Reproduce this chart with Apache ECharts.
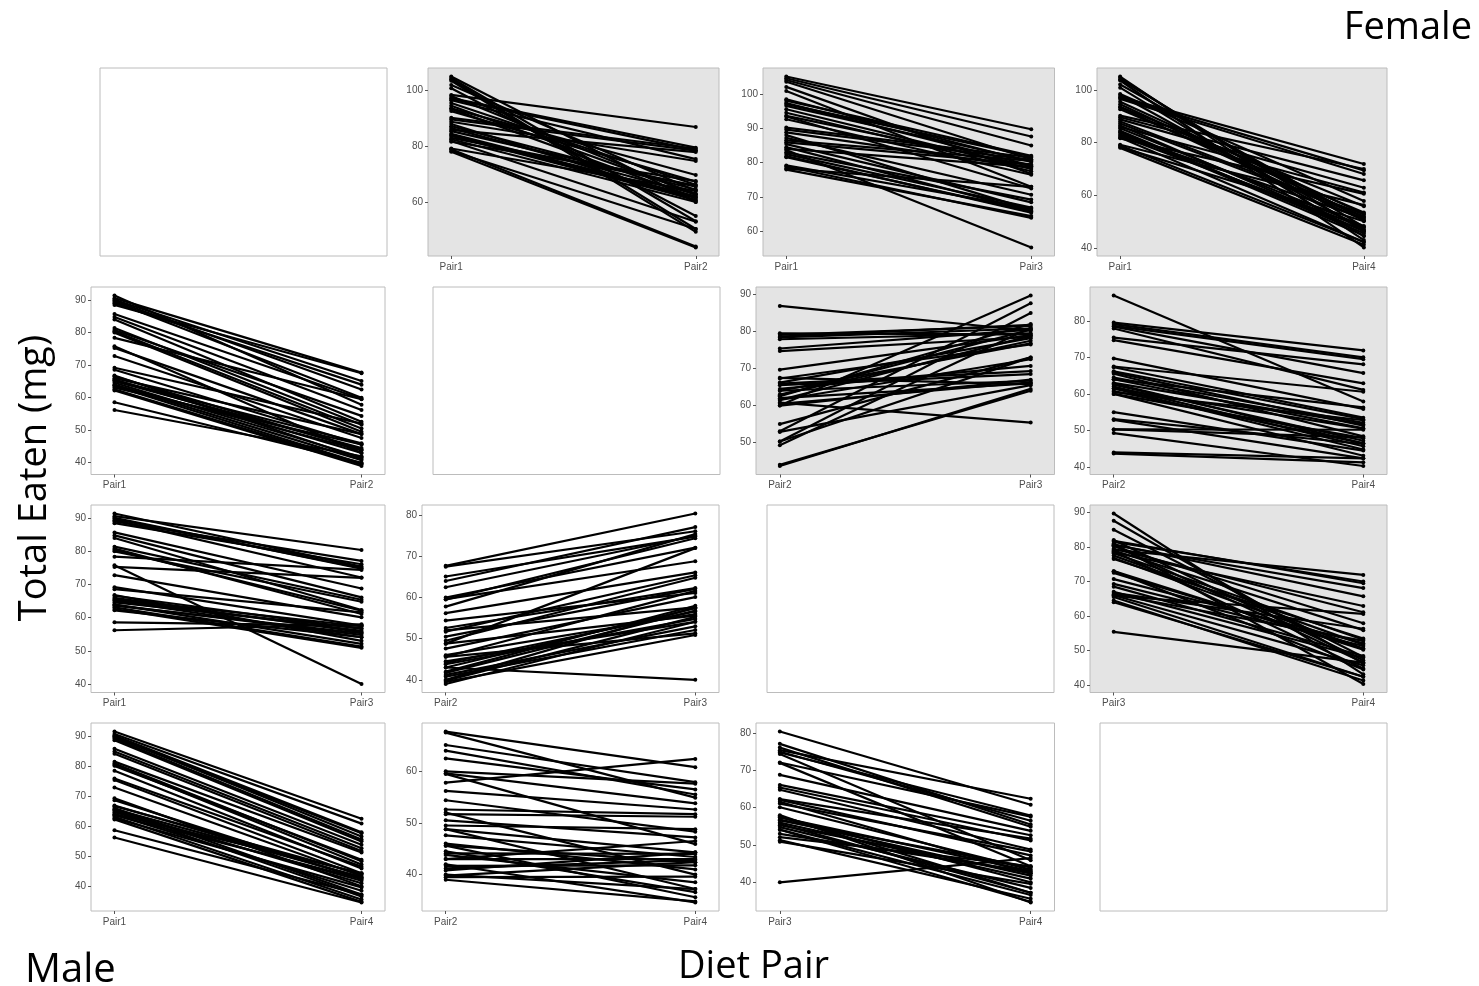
<!DOCTYPE html>
<html><head><meta charset="utf-8">
<script src="https://cdn.jsdelivr.net/npm/echarts@6/dist/echarts.min.js"></script>
<style>html,body{margin:0;padding:0;background:#fff}#c{width:1479px;height:986px}</style>
</head><body><div id="c"></div><script>
// ---------------- DATA ----------------
const pairNames = ['Pair1', 'Pair2', 'Pair3', 'Pair4'];

// Female subjects (upper triangle panels)
const femalePair1 = [105, 104.5, 104, 103.5, 100.8, 98.4, 98, 97.3, 96.5, 95.5, 94.5, 93.6, 93.4, 92.6, 90.2, 89.6, 88.8, 87.2, 85.9, 85.4, 84.5, 83.7, 83, 82.5, 81.9, 81.6, 79.2, 78.9, 78.3, 78, 86.5, 84, 97, 102, 88];
const femalePair2 = [60, 53.1, 50.3, 49.3, 55, 86.9, 62.5, 79.5, 75.4, 66.2, 63, 69.7, 61.5, 67.3, 79.1, 78.4, 74.7, 64.5, 77.9, 65.5, 62, 60.8, 65.9, 60, 52.9, 67.5, 64, 44, 50.3, 43.7, 62.8, 61.5, 78.6, 64, 60.5];
const femalePair3 = [89.7, 87.6, 85, 81, 73, 80.2, 82, 79.2, 80.5, 78.2, 77.5, 79, 72.5, 76.5, 81.5, 80.8, 78.5, 70.7, 79.5, 68.5, 66, 55.4, 69.3, 67, 65.5, 65.8, 66.7, 64, 73, 64.5, 80.5, 78.8, 81.8, 76.8, 66.3];
const femalePair4 = [43.1, 46.3, 48.1, 40.3, 44.5, 57.9, 47.2, 71.9, 68.1, 53.1, 51.7, 55.9, 50.5, 53.5, 70, 65.7, 62.9, 52.1, 61.1, 48.4, 45.7, 46.5, 51.3, 47.9, 42.4, 60.6, 56.3, 42.4, 50.2, 41.3, 46.5, 44.8, 69.5, 50.6, 52.8];

// Male subjects (lower triangle panels)
const malePair1 = [91.4, 90.6, 90.1, 89.4, 89, 88.5, 85.7, 84.8, 84, 81.4, 80.8, 80.4, 78.4, 75.8, 75.3, 72.8, 69.2, 68.6, 66.6, 66, 65.6, 65.1, 64.6, 64, 63.6, 63.1, 62.6, 62.2, 58.6, 56.2, 65.3, 63.8, 89.8, 80, 66.8];
const malePair2 = [57.8, 67.7, 65.1, 60, 64, 67.5, 59.6, 56.2, 52.6, 51.7, 54.4, 50.5, 59.5, 43, 48.8, 47.6, 52, 45.6, 44.1, 48.8, 43, 44.5, 41.7, 40.8, 39.8, 45.6, 39.5, 39, 40, 42, 46, 43.8, 62.5, 49.5, 41.2];
const malePair3 = [75.4, 80.4, 74.8, 72.1, 77.1, 76.1, 68.8, 66.1, 62.3, 65.4, 61.1, 62.1, 74.4, 40, 72, 60.1, 57.6, 61.6, 56.6, 55.6, 57.4, 54.1, 56.8, 52.1, 55.3, 51.3, 50.9, 54.1, 57.6, 58, 56, 54.8, 75, 64.8, 53];
const malePair4 = [62.4, 60.8, 57.9, 57.6, 55.5, 54.9, 53.8, 52.6, 51.7, 51.2, 48.3, 47.2, 45.9, 46.5, 44.3, 43.4, 40, 42.4, 44, 37.2, 43, 36.6, 41.8, 44.3, 42.4, 35.6, 39.6, 34.8, 37.2, 34.6, 41, 38.5, 56.5, 48.8, 42.8];

// Y tick labels per panel (row-col)
const tickValues = {
  '0-1': [60, 80, 100],
  '0-2': [60, 70, 80, 90, 100],
  '0-3': [40, 60, 80, 100],
  '1-0': [40, 50, 60, 70, 80, 90],
  '1-2': [50, 60, 70, 80, 90],
  '1-3': [40, 50, 60, 70, 80],
  '2-0': [40, 50, 60, 70, 80, 90],
  '2-1': [40, 50, 60, 70, 80],
  '2-3': [40, 50, 60, 70, 80, 90],
  '3-0': [40, 50, 60, 70, 80, 90],
  '3-1': [40, 50, 60],
  '3-2': [40, 50, 60, 70, 80]
};

// ---------------- LAYOUT ----------------
const female = [femalePair1, femalePair2, femalePair3, femalePair4];
const male = [malePair1, malePair2, malePair3, malePair4];

const rowTop = [68, 287, 505, 723];
const rowBottom = [256, 474.5, 692.5, 911];
const colRight = [385, 719, 1054.5, 1387];
const diagRight = [387, 720, 1054, 1387];
const panelLeft = [
  [100, 428, 763, 1097],
  [91, 433, 756, 1090],
  [91, 422, 767, 1090],
  [91, 422, 756, 1100]
];
const X_PAD = 0.095;

const grids = [], xAxes = [], yAxes = [], series = [];
let gi = 0;
for (let r = 0; r < 4; r++) {
  for (let c = 0; c < 4; c++) {
    const left = panelLeft[r][c];
    const right = r === c ? diagRight[c] : colRight[c];
    const isFemale = r < c;
    grids.push({
      left: left, top: rowTop[r],
      width: right - left, height: rowBottom[r] - rowTop[r],
      show: true,
      backgroundColor: isFemale ? '#e4e4e4' : '#ffffff',
      borderColor: '#bcbcbc', borderWidth: 1,
      containLabel: false, outerBoundsMode: 'none'
    });
    if (r === c) {
      xAxes.push({ type: 'value', gridIndex: gi, show: false, min: 0, max: 1 });
      yAxes.push({ type: 'value', gridIndex: gi, show: false, min: 0, max: 1 });
      gi++;
      continue;
    }
    const set = isFemale ? female : male;
    const a = Math.min(r, c), b = Math.max(r, c);
    const A = set[a], B = set[b];
    const all = A.concat(B);
    const dmin = Math.min.apply(null, all), dmax = Math.max.apply(null, all);
    const pad = (dmax - dmin) * 0.05;
    const ticks = tickValues[r + '-' + c];
    const names = [pairNames[a], pairNames[b]];
    xAxes.push({
      type: 'value', gridIndex: gi, min: -X_PAD, max: 1 + X_PAD, position: 'bottom',
      axisLine: { show: false, onZero: false },
      splitLine: { show: false },
      axisTick: { show: true, length: 3, customValues: [0, 1], lineStyle: { color: '#555', width: 1 } },
      axisLabel: {
        show: true, customValues: [0, 1], margin: 6,
        fontFamily: 'Liberation Sans, Arial, sans-serif', fontSize: 10, color: '#4d4d4d',
        formatter: v => (Math.abs(v) < 1e-6 ? names[0] : names[1])
      }
    });
    yAxes.push({
      type: 'value', gridIndex: gi, min: dmin - pad, max: dmax + pad, position: 'left',
      axisLine: { show: false, onZero: false },
      splitLine: { show: false },
      axisTick: { show: true, length: 3, customValues: ticks, lineStyle: { color: '#555', width: 1 } },
      axisLabel: {
        show: true, customValues: ticks, margin: 5,
        fontFamily: 'Liberation Sans, Arial, sans-serif', fontSize: 10, color: '#4d4d4d'
      }
    });
    for (let i = 0; i < A.length; i++) {
      series.push({
        type: 'line', xAxisIndex: gi, yAxisIndex: gi,
        data: [[0, A[i]], [1, B[i]]],
        symbol: 'circle', symbolSize: 4, showSymbol: true,
        lineStyle: { color: '#000', width: 2.2 },
        itemStyle: { color: '#000' },
        silent: true, animation: false, z: 3
      });
    }
    gi++;
  }
}

const chart = echarts.init(document.getElementById('c'), null, { renderer: 'canvas' });
chart.setOption({
  animation: false,
  backgroundColor: '#ffffff',
  grid: grids, xAxis: xAxes, yAxis: yAxes, series: series,
  graphic: [
    { type: 'text', right: 7, top: 9, style: { text: 'Female', font: '38px "Open Sans", sans-serif', fill: '#000' } },
    { type: 'text', left: 25, top: 951, style: { text: 'Male', font: '40px "Open Sans", sans-serif', fill: '#000' } },
    { type: 'text', left: 678, top: 948, style: { text: 'Diet Pair', font: '38px "Open Sans", sans-serif', fill: '#000' } },
    { type: 'text', x: 35, y: 478, rotation: Math.PI / 2,
      style: { text: 'Total Eaten (mg)', font: '38px "Open Sans", sans-serif', fill: '#000', align: 'center', verticalAlign: 'middle' } }
  ]
});
</script></body></html>
